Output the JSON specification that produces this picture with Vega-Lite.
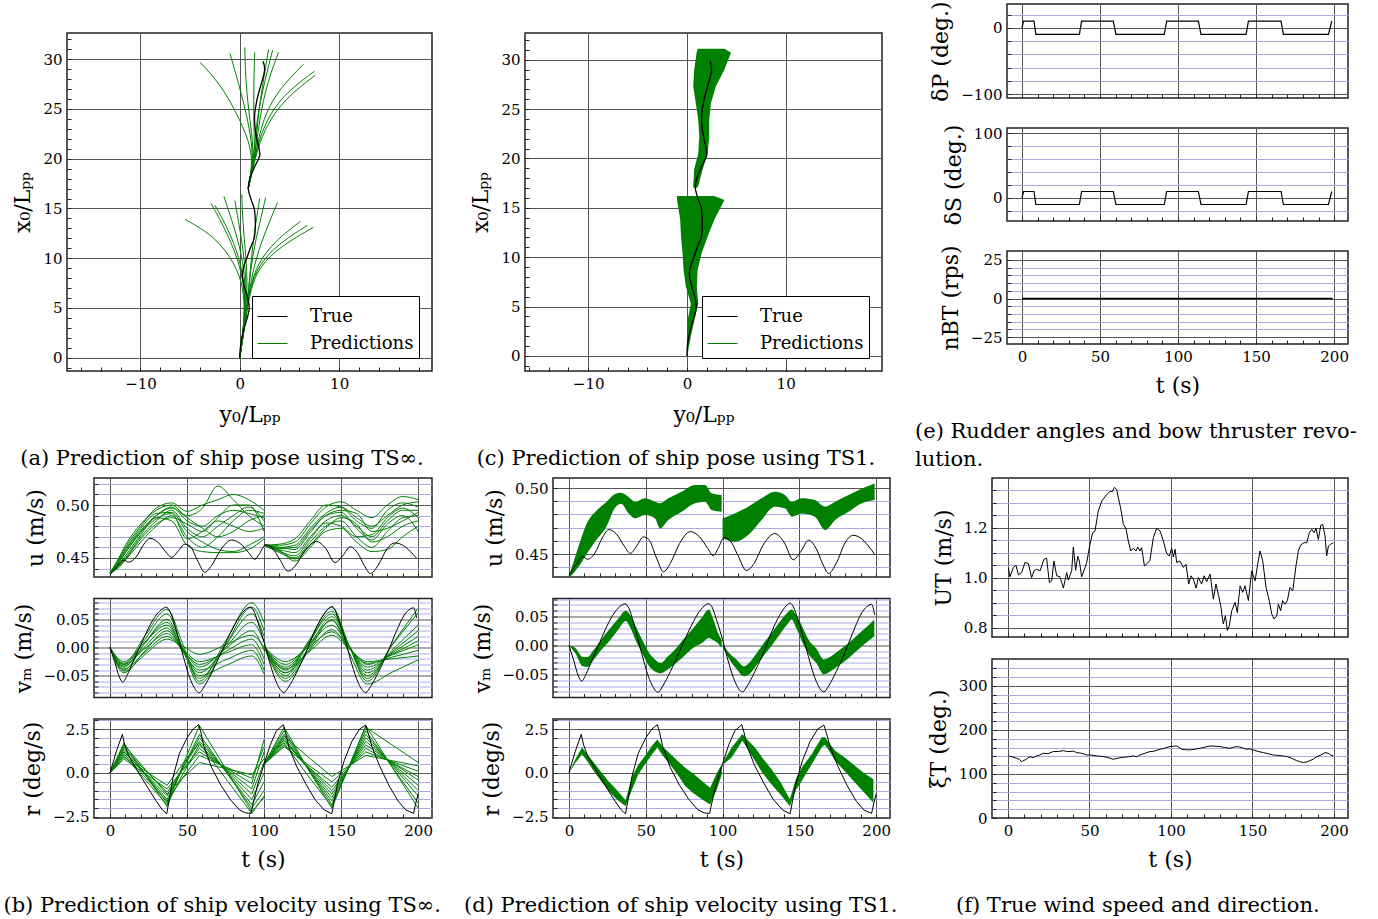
{
"$schema":"https://vega.github.io/schema/vega-lite/v6.json",
"padding":{"left":0,"top":0,"right":5,"bottom":5},
"background":"white",
"config":{
 "font":"DejaVu Serif",
 "view":{"stroke":"#222222","strokeWidth":1.5},
 "axis":{"labelFont":"DejaVu Serif","labelFontSize":15,"labelColor":"#000","titleFont":"DejaVu Serif","titleFontSize":22,"titleFontWeight":"normal","titleColor":"#000","domain":false,"ticks":true,"tickColor":"#222","tickSize":-4,"tickWidth":1,"labelPadding":9,"gridColor":"#555555","gridWidth":1,"labelOverlap":false,"labelFlush":false,"titlePadding":8},
 "title":{"font":"DejaVu Serif","fontSize":21,"fontWeight":"normal","color":"#000"},
 "line":{"strokeWidth":1}
},
"datasets":{
 "traj":[{"e":0,"n":0},{"e":0.05,"n":1},{"e":0.2,"n":2},{"e":0.45,"n":3},{"e":0.75,"n":4},{"e":0.95,"n":5},{"e":0.8,"n":6},{"e":0.5,"n":7},{"e":0.25,"n":8.2},{"e":0.35,"n":9},{"e":0.7,"n":10},{"e":1.05,"n":11},{"e":1.45,"n":12},{"e":1.55,"n":13},{"e":1.55,"n":14},{"e":1.45,"n":15},{"e":1.1,"n":16},{"e":0.85,"n":17},{"e":1.0,"n":18},{"e":1.5,"n":19.2},{"e":2.0,"n":20.3},{"e":1.9,"n":21.2},{"e":1.65,"n":22.3},{"e":1.5,"n":23.5},{"e":1.5,"n":24.5},{"e":1.7,"n":25.8},{"e":2.0,"n":27},{"e":2.3,"n":28},{"e":2.5,"n":29},{"e":2.35,"n":29.8}],
 "pa":[
 {"l":1,"e":0,"n":0},{"l":1,"e":0.5,"n":4},{"l":1,"e":0.4,"n":7},{"l":1,"e":-0.5,"n":9.5},{"l":1,"e":-2.5,"n":12.2},{"l":1,"e":-5.5,"n":13.9},
 {"l":2,"e":0,"n":0},{"l":2,"e":0.5,"n":4},{"l":2,"e":0.5,"n":7},{"l":2,"e":-0.2,"n":10},{"l":2,"e":-1.5,"n":13},{"l":2,"e":-2.9,"n":15.5},
 {"l":3,"e":0,"n":0},{"l":3,"e":0.5,"n":4},{"l":3,"e":0.5,"n":7},{"l":3,"e":0,"n":10},{"l":3,"e":-1.2,"n":13},{"l":3,"e":-2.5,"n":15.3},
 {"l":4,"e":0,"n":0},{"l":4,"e":0.5,"n":4},{"l":4,"e":0.6,"n":7},{"l":4,"e":0.2,"n":10.5},{"l":4,"e":-0.7,"n":13.5},{"l":4,"e":-1.6,"n":16.2},
 {"l":5,"e":0,"n":0},{"l":5,"e":0.5,"n":4},{"l":5,"e":0.7,"n":7},{"l":5,"e":0.4,"n":10.5},{"l":5,"e":-0.1,"n":13.5},{"l":5,"e":-0.5,"n":15.8},
 {"l":6,"e":0,"n":0},{"l":6,"e":0.5,"n":4},{"l":6,"e":0.8,"n":7},{"l":6,"e":0.6,"n":10.5},{"l":6,"e":0.3,"n":13.5},{"l":6,"e":0.2,"n":16.4},
 {"l":7,"e":0,"n":0},{"l":7,"e":0.6,"n":4},{"l":7,"e":0.9,"n":7},{"l":7,"e":1.2,"n":10.5},{"l":7,"e":1.6,"n":13.5},{"l":7,"e":2.0,"n":16.0},
 {"l":8,"e":0,"n":0},{"l":8,"e":0.6,"n":4},{"l":8,"e":0.9,"n":7},{"l":8,"e":1.3,"n":10.5},{"l":8,"e":2.0,"n":13.5},{"l":8,"e":2.6,"n":16.1},
 {"l":9,"e":0,"n":0},{"l":9,"e":0.6,"n":4},{"l":9,"e":1.0,"n":7},{"l":9,"e":1.6,"n":10},{"l":9,"e":2.7,"n":13},{"l":9,"e":3.8,"n":15.6},
 {"l":10,"e":0,"n":0},{"l":10,"e":0.6,"n":4},{"l":10,"e":1.0,"n":7},{"l":10,"e":1.8,"n":9.5},{"l":10,"e":3.5,"n":11.7},{"l":10,"e":6.1,"n":13.7},
 {"l":11,"e":0,"n":0},{"l":11,"e":0.6,"n":4},{"l":11,"e":1.0,"n":7},{"l":11,"e":1.9,"n":9.3},{"l":11,"e":3.8,"n":11.4},{"l":11,"e":6.8,"n":13.3},
 {"l":12,"e":0,"n":0},{"l":12,"e":0.6,"n":4},{"l":12,"e":1.1,"n":7},{"l":12,"e":2.0,"n":9.2},{"l":12,"e":4.1,"n":11.2},{"l":12,"e":7.4,"n":13.1},
 {"l":21,"e":0.85,"n":17},{"l":21,"e":1.2,"n":19},{"l":21,"e":1.2,"n":21},{"l":21,"e":0,"n":24},{"l":21,"e":-1.8,"n":27.3},{"l":21,"e":-4.0,"n":29.7},
 {"l":22,"e":0.85,"n":17},{"l":22,"e":1.2,"n":19},{"l":22,"e":1.3,"n":21},{"l":22,"e":0.8,"n":24},{"l":22,"e":-0.1,"n":27.5},{"l":22,"e":-1.0,"n":30.6},
 {"l":23,"e":0.85,"n":17},{"l":23,"e":1.2,"n":19},{"l":23,"e":1.4,"n":21},{"l":23,"e":1.0,"n":24},{"l":23,"e":0.6,"n":27.5},{"l":23,"e":0.5,"n":31.2},
 {"l":24,"e":0.85,"n":17},{"l":24,"e":1.3,"n":19},{"l":24,"e":1.5,"n":21},{"l":24,"e":1.4,"n":24},{"l":24,"e":1.4,"n":27.5},{"l":24,"e":1.5,"n":30.7},
 {"l":25,"e":0.85,"n":17},{"l":25,"e":1.3,"n":19},{"l":25,"e":1.6,"n":21},{"l":25,"e":1.8,"n":24},{"l":25,"e":2.3,"n":27.5},{"l":25,"e":2.9,"n":31.0},
 {"l":26,"e":0.85,"n":17},{"l":26,"e":1.3,"n":19},{"l":26,"e":1.6,"n":21},{"l":26,"e":2.0,"n":24},{"l":26,"e":2.7,"n":27.5},{"l":26,"e":3.9,"n":30.7},
 {"l":27,"e":0.85,"n":17},{"l":27,"e":1.3,"n":19},{"l":27,"e":1.7,"n":21},{"l":27,"e":2.2,"n":23.5},{"l":27,"e":3.5,"n":26.5},{"l":27,"e":6.4,"n":29.5},
 {"l":28,"e":0.85,"n":17},{"l":28,"e":1.3,"n":19},{"l":28,"e":1.7,"n":21},{"l":28,"e":2.5,"n":23.5},{"l":28,"e":4.2,"n":26.3},{"l":28,"e":7.5,"n":28.8},
 {"l":29,"e":0.85,"n":17},{"l":29,"e":1.3,"n":19},{"l":29,"e":1.8,"n":21},{"l":29,"e":2.7,"n":23.4},{"l":29,"e":4.5,"n":26},{"l":29,"e":7.6,"n":28.4},
 {"l":30,"e":0.85,"n":17},{"l":30,"e":1.2,"n":19},{"l":30,"e":1.5,"n":21},{"l":30,"e":1.7,"n":24},{"l":30,"e":2.5,"n":27.8},{"l":30,"e":3.3,"n":30.9}],
 "bc":[
 {"f":1,"n":0,"e":0,"e2":0.03},{"f":1,"n":2,"e":0,"e2":0.4},{"f":1,"n":3.6,"e":0.07,"e2":0.74},{"f":1,"n":5.3,"e":0.4,"e2":1.15},{"f":1,"n":7,"e":-0.1,"e2":1.0},{"f":1,"n":8.7,"e":-0.34,"e2":1.08},{"f":1,"n":10.4,"e":-0.44,"e2":1.49},{"f":1,"n":12.1,"e":-0.6,"e2":2.1},{"f":1,"n":13.8,"e":-0.68,"e2":2.77},{"f":1,"n":15.1,"e":-0.88,"e2":3.45},{"f":1,"n":15.8,"e":-1.0,"e2":3.8},{"f":1,"n":16.2,"e":-1.0,"e2":2.77},
 {"f":2,"n":17.0,"e":0.7,"e2":1.0},{"f":2,"n":17.2,"e":0.64,"e2":1.15},{"f":2,"n":18.9,"e":0.74,"e2":1.6},{"f":2,"n":20.5,"e":1.15,"e2":2.1},{"f":2,"n":22.2,"e":1.25,"e2":2.26},{"f":2,"n":23.9,"e":1.15,"e2":2.26},{"f":2,"n":25.6,"e":0.9,"e2":2.43},{"f":2,"n":27.3,"e":0.64,"e2":2.94},{"f":2,"n":29.0,"e":0.74,"e2":3.8},{"f":2,"n":30.7,"e":0.98,"e2":4.46},{"f":2,"n":31.1,"e":1.08,"e2":3.8}],
 "tu":[{"t":0,"v":0.434},{"t":4,"v":0.441},{"t":9,"v":0.448},{"t":12,"v":0.446},{"t":17,"v":0.451},{"t":22,"v":0.463},{"t":26,"v":0.4685},{"t":31,"v":0.465},{"t":36,"v":0.456},{"t":40,"v":0.4505},{"t":44,"v":0.456},{"t":48.5,"v":0.463},{"t":52,"v":0.461},{"t":57,"v":0.447},{"t":61.5,"v":0.4365},{"t":66,"v":0.443},{"t":72,"v":0.458},{"t":79,"v":0.467},{"t":85,"v":0.463},{"t":90,"v":0.455},{"t":94,"v":0.4487},{"t":97,"v":0.454},{"t":101,"v":0.4625},{"t":105,"v":0.46},{"t":110,"v":0.449},{"t":115.5,"v":0.4375},{"t":120,"v":0.442},{"t":127,"v":0.458},{"t":134,"v":0.4655},{"t":140,"v":0.459},{"t":146,"v":0.4457},{"t":151,"v":0.452},{"t":156,"v":0.4605},{"t":161,"v":0.454},{"t":165,"v":0.443},{"t":169,"v":0.4353},{"t":174,"v":0.443},{"t":180,"v":0.459},{"t":185,"v":0.4642},{"t":190,"v":0.462},{"t":195,"v":0.456},{"t":199,"v":0.4497}],
 "tv":[{"t":0,"v":0},{"t":3,"v":-0.025},{"t":6,"v":-0.052},{"t":8.3,"v":-0.0615},{"t":11,"v":-0.05},{"t":15,"v":-0.025},{"t":20,"v":0.005},{"t":25,"v":0.035},{"t":30,"v":0.058},{"t":34,"v":0.069},{"t":36.5,"v":0.072},{"t":39,"v":0.064},{"t":42,"v":0.04},{"t":45,"v":0.01},{"t":48,"v":-0.02},{"t":51,"v":-0.048},{"t":54,"v":-0.068},{"t":58,"v":-0.0805},{"t":61,"v":-0.07},{"t":66,"v":-0.045},{"t":72,"v":-0.01},{"t":78,"v":0.025},{"t":84,"v":0.055},{"t":88,"v":0.068},{"t":91,"v":0.072},{"t":93,"v":0.067},{"t":96,"v":0.045},{"t":100,"v":0.01},{"t":104,"v":-0.03},{"t":108,"v":-0.062},{"t":113,"v":-0.08},{"t":116,"v":-0.07},{"t":121,"v":-0.045},{"t":127,"v":-0.01},{"t":133,"v":0.03},{"t":139,"v":0.06},{"t":142,"v":0.07},{"t":144,"v":0.073},{"t":146,"v":0.067},{"t":149,"v":0.045},{"t":153,"v":0.01},{"t":157,"v":-0.03},{"t":161,"v":-0.062},{"t":166,"v":-0.08},{"t":169,"v":-0.07},{"t":174,"v":-0.045},{"t":180,"v":-0.01},{"t":186,"v":0.03},{"t":191,"v":0.058},{"t":195,"v":0.069},{"t":197,"v":0.071},{"t":199,"v":0.053}],
 "tr":[{"t":0,"v":0},{"t":4,"v":1.2},{"t":8,"v":2.2},{"t":9.5,"v":1.6},{"t":12,"v":1.0},{"t":16,"v":0.4},{"t":20,"v":-0.2},{"t":25,"v":-0.9},{"t":30,"v":-1.6},{"t":34,"v":-2.1},{"t":36.8,"v":-2.32},{"t":38.5,"v":-1.5},{"t":41,"v":-0.2},{"t":45,"v":1.1},{"t":50,"v":2.0},{"t":54,"v":2.5},{"t":57.5,"v":2.75},{"t":59,"v":2.3},{"t":61,"v":1.5},{"t":66,"v":0.3},{"t":72,"v":-0.7},{"t":78,"v":-1.5},{"t":84,"v":-2.1},{"t":88,"v":-2.27},{"t":91.5,"v":-2.3},{"t":93,"v":-1.7},{"t":96,"v":-0.6},{"t":100,"v":0.5},{"t":104,"v":1.6},{"t":108,"v":2.4},{"t":112.5,"v":2.75},{"t":114,"v":2.3},{"t":116,"v":1.5},{"t":121,"v":0.4},{"t":127,"v":-0.6},{"t":133,"v":-1.5},{"t":139,"v":-2.1},{"t":144,"v":-2.32},{"t":145.5,"v":-1.6},{"t":148,"v":-0.5},{"t":152,"v":0.7},{"t":157,"v":1.8},{"t":162,"v":2.5},{"t":166,"v":2.72},{"t":167.5,"v":2.3},{"t":170,"v":1.5},{"t":175,"v":0.4},{"t":181,"v":-0.7},{"t":187,"v":-1.6},{"t":192,"v":-2.1},{"t":197,"v":-2.3},{"t":198.5,"v":-1.7},{"t":200,"v":-1.2}],
 "bu":[
 {"s":1,"t":0,"a":0.436,"b":0.436,"c":0.436,"d":0.436,"e":0.436,"f":0.436,"g":0.436,"h":0.436,"i":0.436,"j":0.436},
 {"s":1,"t":5,"a":0.445,"b":0.442,"c":0.448,"d":0.440,"e":0.446,"f":0.443,"g":0.447,"h":0.441,"i":0.444,"j":0.446},
 {"s":1,"t":10,"a":0.455,"b":0.450,"c":0.462,"d":0.448,"e":0.458,"f":0.452,"g":0.460,"h":0.449,"i":0.455,"j":0.457},
 {"s":1,"t":20,"a":0.475,"b":0.470,"c":0.482,"d":0.465,"e":0.478,"f":0.472,"g":0.480,"h":0.468,"i":0.474,"j":0.476},
 {"s":1,"t":30,"a":0.490,"b":0.485,"c":0.495,"d":0.480,"e":0.492,"f":0.488,"g":0.497,"h":0.482,"i":0.487,"j":0.490},
 {"s":1,"t":40,"a":0.498,"b":0.495,"c":0.500,"d":0.490,"e":0.493,"f":0.485,"g":0.502,"h":0.488,"i":0.492,"j":0.497},
 {"s":1,"t":50,"a":0.485,"b":0.478,"c":0.490,"d":0.470,"e":0.475,"f":0.462,"g":0.494,"h":0.482,"i":0.468,"j":0.488},
 {"s":1,"t":60,"a":0.480,"b":0.470,"c":0.497,"d":0.460,"e":0.465,"f":0.456,"g":0.500,"h":0.475,"i":0.475,"j":0.478},
 {"s":1,"t":70,"a":0.490,"b":0.480,"c":0.518,"d":0.470,"e":0.458,"f":0.455,"g":0.505,"h":0.488,"i":0.485,"j":0.470},
 {"s":1,"t":80,"a":0.495,"b":0.490,"c":0.505,"d":0.485,"e":0.456,"f":0.455,"g":0.510,"h":0.500,"i":0.480,"j":0.475},
 {"s":1,"t":90,"a":0.492,"b":0.498,"c":0.490,"d":0.495,"e":0.462,"f":0.458,"g":0.505,"h":0.500,"i":0.475,"j":0.485},
 {"s":1,"t":100,"a":0.488,"b":0.485,"c":0.480,"d":0.492,"e":0.470,"f":0.468,"g":0.495,"h":0.475,"i":0.478,"j":0.490},
 {"s":2,"t":100,"a":0.462,"b":0.462,"c":0.462,"d":0.462,"e":0.462,"f":0.462,"g":0.462,"h":0.462,"i":0.462,"j":0.462},
 {"s":2,"t":110,"a":0.460,"b":0.458,"c":0.462,"d":0.455,"e":0.457,"f":0.460,"g":0.463,"h":0.456,"i":0.459,"j":0.457},
 {"s":2,"t":120,"a":0.462,"b":0.455,"c":0.465,"d":0.450,"e":0.447,"f":0.458,"g":0.468,"h":0.452,"i":0.460,"j":0.449},
 {"s":2,"t":130,"a":0.478,"b":0.470,"c":0.482,"d":0.465,"e":0.460,"f":0.474,"g":0.485,"h":0.468,"i":0.476,"j":0.462},
 {"s":2,"t":140,"a":0.492,"b":0.485,"c":0.498,"d":0.480,"e":0.475,"f":0.490,"g":0.500,"h":0.483,"i":0.490,"j":0.478},
 {"s":2,"t":150,"a":0.498,"b":0.490,"c":0.503,"d":0.485,"e":0.478,"f":0.493,"g":0.498,"h":0.480,"i":0.495,"j":0.488},
 {"s":2,"t":160,"a":0.488,"b":0.480,"c":0.495,"d":0.470,"e":0.465,"f":0.478,"g":0.485,"h":0.470,"i":0.492,"j":0.482},
 {"s":2,"t":170,"a":0.480,"b":0.470,"c":0.488,"d":0.460,"e":0.456,"f":0.467,"g":0.478,"h":0.472,"i":0.475,"j":0.465},
 {"s":2,"t":180,"a":0.490,"b":0.485,"c":0.500,"d":0.475,"e":0.458,"f":0.482,"g":0.495,"h":0.488,"i":0.478,"j":0.470},
 {"s":2,"t":190,"a":0.500,"b":0.495,"c":0.508,"d":0.488,"e":0.470,"f":0.490,"g":0.502,"h":0.497,"i":0.485,"j":0.480},
 {"s":2,"t":200,"a":0.503,"b":0.495,"c":0.505,"d":0.490,"e":0.480,"f":0.475,"g":0.498,"h":0.488,"i":0.493,"j":0.485}],
 "bv":[
 {"s":1,"t":0,"a":0,"b":0,"c":0,"d":0,"e":0,"f":0,"g":0,"h":0,"i":0,"j":0},
 {"s":1,"t":9,"a":-0.030,"b":-0.035,"c":-0.040,"d":-0.025,"e":-0.045,"f":-0.030,"g":-0.038,"h":-0.033,"i":-0.028,"j":-0.042},
 {"s":1,"t":22,"a":0.018,"b":0.012,"c":0.005,"d":0.008,"e":-0.008,"f":-0.003,"g":-0.010,"h":0.000,"i":0.008,"j":-0.014},
 {"s":1,"t":37,"a":0.068,"b":0.060,"c":0.050,"d":0.040,"e":0.030,"f":0.025,"g":0.020,"h":0.035,"i":0.045,"j":0.015},
 {"s":1,"t":47,"a":0.008,"b":0.000,"c":0.000,"d":-0.004,"e":-0.002,"f":-0.004,"g":-0.002,"h":-0.006,"i":-0.005,"j":0.003},
 {"s":1,"t":58,"a":-0.060,"b":-0.065,"c":-0.055,"d":-0.045,"e":-0.035,"f":-0.030,"g":-0.025,"h":-0.040,"i":-0.050,"j":-0.012},
 {"s":1,"t":75,"a":0.012,"b":0.004,"c":0.004,"d":0.000,"e":-0.002,"f":-0.007,"g":-0.010,"h":-0.022,"i":-0.032,"j":0.005},
 {"s":1,"t":92,"a":0.080,"b":0.072,"c":0.060,"d":0.045,"e":0.030,"f":0.015,"g":0.005,"h":-0.005,"i":-0.015,"j":0.022},
 {"s":1,"t":100,"a":0.045,"b":0.030,"c":0.020,"d":0.010,"e":-0.005,"f":-0.020,"g":-0.030,"h":-0.040,"i":-0.047,"j":0.000},
 {"s":2,"t":100,"a":0.002,"b":0.002,"c":0.002,"d":0.002,"e":0.002,"f":0.002,"g":0.002,"h":0.002,"i":0.002,"j":0.002},
 {"s":2,"t":114,"a":-0.045,"b":-0.050,"c":-0.040,"d":-0.055,"e":-0.035,"f":-0.030,"g":-0.045,"h":-0.025,"i":-0.038,"j":-0.060},
 {"s":2,"t":129,"a":0.012,"b":0.008,"c":0.010,"d":0.000,"e":0.006,"f":0.005,"g":-0.006,"h":0.001,"i":-0.008,"j":-0.005},
 {"s":2,"t":144,"a":0.072,"b":0.065,"c":0.060,"d":0.055,"e":0.048,"f":0.040,"g":0.032,"h":0.028,"i":0.022,"j":0.050},
 {"s":2,"t":155,"a":0.005,"b":0.004,"c":0.004,"d":0.004,"e":0.004,"f":0.002,"g":0.000,"h":0.000,"i":-0.002,"j":-0.008},
 {"s":2,"t":167,"a":-0.060,"b":-0.055,"c":-0.050,"d":-0.045,"e":-0.040,"f":-0.035,"g":-0.030,"h":-0.028,"i":-0.025,"j":-0.065},
 {"s":2,"t":183,"a":0.005,"b":0.004,"c":-0.005,"d":-0.008,"e":-0.010,"f":-0.012,"g":-0.013,"h":-0.017,"i":-0.020,"j":-0.044},
 {"s":2,"t":200,"a":0.070,"b":0.062,"c":0.040,"d":0.030,"e":0.020,"f":0.012,"g":0.005,"h":-0.005,"i":-0.015,"j":-0.022}],
 "br":[
 {"s":1,"t":0,"a":0,"b":0,"c":0,"d":0,"e":0,"f":0,"g":0,"h":0,"i":0,"j":0},
 {"s":1,"t":9,"a":1.7,"b":1.5,"c":1.3,"d":1.2,"e":1.0,"f":1.4,"g":0.8,"h":1.1,"i":1.6,"j":0.9},
 {"s":1,"t":23,"a":-0.1,"b":-0.1,"c":-0.1,"d":-0.05,"e":-0.4,"f":0.15,"g":-0.05,"h":-0.25,"i":0.2,"j":0.1},
 {"s":1,"t":37,"a":-1.9,"b":-1.7,"c":-1.5,"d":-1.3,"e":-1.8,"f":-1.1,"g":-0.9,"h":-1.6,"i":-1.2,"j":-0.7},
 {"s":1,"t":47,"a":0.4,"b":0.25,"c":0.25,"d":0.25,"e":-0.1,"f":0.15,"g":0.15,"h":-0.3,"i":-0.3,"j":0.5},
 {"s":1,"t":58,"a":2.7,"b":2.2,"c":2.0,"d":1.8,"e":1.6,"f":1.4,"g":1.2,"h":1.0,"i":0.6,"j":1.7},
 {"s":1,"t":75,"a":0.25,"b":0.1,"c":0.1,"d":0.15,"e":0.2,"f":0.25,"g":0.3,"h":0.35,"i":0.25,"j":-0.3},
 {"s":1,"t":92,"a":-2.2,"b":-2.0,"c":-1.8,"d":-1.5,"e":-1.2,"f":-0.9,"g":-0.6,"h":-0.3,"i":-0.1,"j":-2.3},
 {"s":1,"t":100,"a":-1.4,"b":-1.0,"c":-0.5,"d":0.0,"e":0.6,"f":1.2,"g":1.9,"h":1.5,"i":0.8,"j":-1.3},
 {"s":2,"t":100,"a":0.5,"b":0.5,"c":0.5,"d":0.5,"e":0.5,"f":0.5,"g":0.5,"h":0.5,"i":0.5,"j":0.5},
 {"s":2,"t":113,"a":2.6,"b":2.4,"c":2.2,"d":2.0,"e":1.9,"f":1.8,"g":1.6,"h":1.5,"i":2.1,"j":1.7},
 {"s":2,"t":128,"a":0.3,"b":0.3,"c":0.3,"d":0.3,"e":0.35,"f":0.4,"g":0.4,"h":0.5,"i":0.95,"j":-0.1},
 {"s":2,"t":144,"a":-2.0,"b":-1.8,"c":-1.6,"d":-1.4,"e":-1.2,"f":-1.0,"g":-0.8,"h":-0.5,"i":-0.2,"j":-1.9},
 {"s":2,"t":155,"a":0.35,"b":0.3,"c":0.3,"d":0.3,"e":0.3,"f":0.3,"g":0.3,"h":0.35,"i":0.4,"j":0.35},
 {"s":2,"t":166,"a":2.7,"b":2.4,"c":2.2,"d":2.0,"e":1.8,"f":1.6,"g":1.4,"h":1.2,"i":1.0,"j":2.6},
 {"s":2,"t":183,"a":0.35,"b":0.35,"c":0.45,"d":0.5,"e":0.55,"f":0.6,"g":0.6,"h":0.65,"i":0.7,"j":1.6},
 {"s":2,"t":200,"a":-2.0,"b":-1.7,"c":-1.3,"d":-1.0,"e":-0.7,"f":-0.4,"g":-0.2,"h":0.1,"i":0.4,"j":0.6}],
 "du":[
 {"s":1,"t":0,"v":0.432,"v2":0.433},{"s":1,"t":6,"v":0.44,"v2":0.455},{"s":1,"t":12,"v":0.451,"v2":0.474},{"s":1,"t":18,"v":0.461,"v2":0.483},{"s":1,"t":24,"v":0.47,"v2":0.489},{"s":1,"t":30,"v":0.485,"v2":0.4955},{"s":1,"t":34,"v":0.488,"v2":0.4965},{"s":1,"t":38.6,"v":0.481,"v2":0.4934},{"s":1,"t":43,"v":0.477,"v2":0.4896},{"s":1,"t":49.5,"v":0.4795,"v2":0.4922},{"s":1,"t":56,"v":0.477,"v2":0.4896},{"s":1,"t":59.3,"v":0.4694,"v2":0.4884},{"s":1,"t":64.7,"v":0.4758,"v2":0.4922},{"s":1,"t":73.4,"v":0.482,"v2":0.4972},{"s":1,"t":82,"v":0.4884,"v2":0.5023},{"s":1,"t":88.6,"v":0.4896,"v2":0.5023},{"s":1,"t":92.9,"v":0.4833,"v2":0.496},{"s":1,"t":99.4,"v":0.482,"v2":0.4947},
 {"s":2,"t":100,"v":0.462,"v2":0.477},{"s":2,"t":108,"v":0.4593,"v2":0.4808},{"s":2,"t":116.7,"v":0.4644,"v2":0.4859},{"s":2,"t":125.4,"v":0.4758,"v2":0.4922},{"s":2,"t":134,"v":0.4859,"v2":0.4972},{"s":2,"t":140.6,"v":0.4846,"v2":0.4947},{"s":2,"t":145,"v":0.4783,"v2":0.4896},{"s":2,"t":151.5,"v":0.4808,"v2":0.4922},{"s":2,"t":160,"v":0.4783,"v2":0.4909},{"s":2,"t":166.8,"v":0.4682,"v2":0.4859},{"s":2,"t":173.3,"v":0.4758,"v2":0.4896},{"s":2,"t":182,"v":0.482,"v2":0.4947},{"s":2,"t":190.7,"v":0.4884,"v2":0.4997},{"s":2,"t":199,"v":0.4909,"v2":0.5035}],
 "dv":[
 {"s":1,"t":0,"v":0,"v2":0},{"s":1,"t":4,"v":-0.013,"v2":-0.004},{"s":1,"t":9,"v":-0.036,"v2":-0.02},{"s":1,"t":12,"v":-0.037,"v2":-0.02},{"s":1,"t":16,"v":-0.025,"v2":-0.008},{"s":1,"t":21,"v":-0.008,"v2":0.01},{"s":1,"t":27,"v":0.01,"v2":0.03},{"s":1,"t":32,"v":0.027,"v2":0.046},{"s":1,"t":37,"v":0.042,"v2":0.06},{"s":1,"t":40,"v":0.03,"v2":0.052},{"s":1,"t":44,"v":0.005,"v2":0.03},{"s":1,"t":48,"v":-0.015,"v2":0.008},{"s":1,"t":52,"v":-0.035,"v2":-0.012},{"s":1,"t":56,"v":-0.045,"v2":-0.024},{"s":1,"t":60,"v":-0.048,"v2":-0.03},{"s":1,"t":64,"v":-0.042,"v2":-0.02},{"s":1,"t":69,"v":-0.032,"v2":-0.007},{"s":1,"t":75,"v":-0.018,"v2":0.012},{"s":1,"t":81,"v":-0.004,"v2":0.03},{"s":1,"t":87,"v":0.005,"v2":0.05},{"s":1,"t":91,"v":0.013,"v2":0.062},{"s":1,"t":94,"v":0.009,"v2":0.045},{"s":1,"t":97,"v":0.004,"v2":0.022},{"s":1,"t":99.4,"v":-0.004,"v2":0.01},
 {"s":2,"t":100,"v":-0.002,"v2":0.002},{"s":2,"t":104,"v":-0.022,"v2":-0.012},{"s":2,"t":109,"v":-0.04,"v2":-0.024},{"s":2,"t":114,"v":-0.053,"v2":-0.036},{"s":2,"t":118,"v":-0.048,"v2":-0.028},{"s":2,"t":122,"v":-0.034,"v2":-0.014},{"s":2,"t":127,"v":-0.017,"v2":0.005},{"s":2,"t":132,"v":0,"v2":0.022},{"s":2,"t":137,"v":0.018,"v2":0.04},{"s":2,"t":142,"v":0.036,"v2":0.056},{"s":2,"t":145,"v":0.045,"v2":0.062},{"s":2,"t":148,"v":0.03,"v2":0.052},{"s":2,"t":152,"v":0.005,"v2":0.032},{"s":2,"t":156,"v":-0.015,"v2":0.01},{"s":2,"t":161,"v":-0.03,"v2":-0.005},{"s":2,"t":166,"v":-0.05,"v2":-0.024},{"s":2,"t":170,"v":-0.045,"v2":-0.02},{"s":2,"t":175,"v":-0.036,"v2":-0.01},{"s":2,"t":181,"v":-0.024,"v2":0.002},{"s":2,"t":187,"v":-0.01,"v2":0.016},{"s":2,"t":193,"v":0.004,"v2":0.03},{"s":2,"t":198.8,"v":0.016,"v2":0.045}],
 "dr":[
 {"s":1,"t":0,"v":0,"v2":0},{"s":1,"t":4,"v":0.55,"v2":0.75},{"s":1,"t":8.5,"v":1.07,"v2":1.45},{"s":1,"t":12,"v":0.65,"v2":1.05},{"s":1,"t":17,"v":0.0,"v2":0.5},{"s":1,"t":25.6,"v":-1.0,"v2":-0.45},{"s":1,"t":31,"v":-1.5,"v2":-0.95},{"s":1,"t":36.9,"v":-1.89,"v2":-1.55},{"s":1,"t":40.8,"v":-1.0,"v2":-0.27},{"s":1,"t":45,"v":-0.1,"v2":0.45},{"s":1,"t":49.5,"v":0.49,"v2":0.97},{"s":1,"t":54,"v":1.05,"v2":1.55},{"s":1,"t":57.5,"v":1.45,"v2":1.9},{"s":1,"t":61,"v":1.0,"v2":1.5},{"s":1,"t":64.7,"v":0.6,"v2":1.2},{"s":1,"t":70,"v":0.0,"v2":0.75},{"s":1,"t":75.6,"v":-0.74,"v2":0.3},{"s":1,"t":81,"v":-1.15,"v2":-0.05},{"s":1,"t":86.5,"v":-1.5,"v2":-0.46},{"s":1,"t":91.9,"v":-1.79,"v2":-0.84},{"s":1,"t":96.3,"v":-0.93,"v2":0.02},{"s":1,"t":99.5,"v":-0.08,"v2":0.49},
 {"s":2,"t":100,"v":0.45,"v2":0.55},{"s":2,"t":105.9,"v":0.88,"v2":1.45},{"s":2,"t":112.9,"v":1.83,"v2":2.21},{"s":2,"t":116,"v":1.4,"v2":1.9},{"s":2,"t":121.1,"v":0.69,"v2":1.45},{"s":2,"t":126,"v":0.0,"v2":0.85},{"s":2,"t":131.9,"v":-0.65,"v2":0.21},{"s":2,"t":138,"v":-1.25,"v2":-0.55},{"s":2,"t":143.8,"v":-1.89,"v2":-1.5},{"s":2,"t":147.5,"v":-1.0,"v2":-0.4},{"s":2,"t":151.5,"v":-0.46,"v2":0.3},{"s":2,"t":158,"v":0.49,"v2":1.07},{"s":2,"t":164.5,"v":1.45,"v2":2.02},{"s":2,"t":166.5,"v":1.6,"v2":2.05},{"s":2,"t":169,"v":1.3,"v2":1.75},{"s":2,"t":173.3,"v":0.69,"v2":1.26},{"s":2,"t":180,"v":0.05,"v2":0.85},{"s":2,"t":186.3,"v":-0.55,"v2":0.4},{"s":2,"t":192,"v":-1.1,"v2":0.0},{"s":2,"t":198.2,"v":-1.69,"v2":-0.36}],
 "ctl":[{"t":0,"d":0},{"t":1,"d":10},{"t":7.7,"d":10},{"t":8.9,"d":-10},{"t":36.8,"d":-10},{"t":38.2,"d":10},{"t":58.5,"d":10},{"t":60.2,"d":-10},{"t":91.2,"d":-10},{"t":92.7,"d":10},{"t":113,"d":10},{"t":114.7,"d":-10},{"t":143.6,"d":-10},{"t":145.1,"d":10},{"t":166,"d":10},{"t":167.5,"d":-10},{"t":196.4,"d":-10},{"t":198.5,"d":10}],
 "nbt":[{"t":0,"d":0},{"t":199,"d":0}],
 "wu":[{"t":0.2,"v":1.041},{"t":1.2,"v":1.004},{"t":3.3,"v":1.041},{"t":4.9,"v":1.05},{"t":6.4,"v":1.012},{"t":8.4,"v":1.021},{"t":10.4,"v":1.061},{"t":12.5,"v":1.057},{"t":14.5,"v":1.001},{"t":16,"v":1.028},{"t":17.6,"v":1.034},{"t":19.7,"v":1.028},{"t":22.1,"v":1.074},{"t":23.7,"v":1.078},{"t":25.4,"v":0.981},{"t":26.8,"v":0.988},{"t":28.2,"v":1.067},{"t":29.9,"v":1.008},{"t":31.9,"v":1.004},{"t":34,"v":0.959},{"t":36,"v":1.021},{"t":37,"v":0.991},{"t":39.1,"v":1.028},{"t":40.1,"v":1.123},{"t":41.5,"v":1.03},{"t":42.8,"v":1.086},{"t":43.8,"v":1.067},{"t":45.2,"v":1.004},{"t":47.3,"v":1.041},{"t":48.3,"v":1.061},{"t":50.3,"v":1.134},{"t":52,"v":1.18},{"t":53.4,"v":1.187},{"t":55.4,"v":1.266},{"t":57.5,"v":1.306},{"t":60.6,"v":1.332},{"t":62.6,"v":1.345},{"t":64,"v":1.343},{"t":65.3,"v":1.361},{"t":66.7,"v":1.352},{"t":67.7,"v":1.319},{"t":69.1,"v":1.279},{"t":70.8,"v":1.213},{"t":72.4,"v":1.197},{"t":73.8,"v":1.147},{"t":75.3,"v":1.107},{"t":76.9,"v":1.118},{"t":78.5,"v":1.107},{"t":79.6,"v":1.123},{"t":81,"v":1.107},{"t":82,"v":1.12},{"t":83.7,"v":1.048},{"t":85.5,"v":1.057},{"t":87.1,"v":1.07},{"t":89.2,"v":1.16},{"t":91.2,"v":1.197},{"t":93.3,"v":1.187},{"t":95.3,"v":1.147},{"t":97.4,"v":1.096},{"t":99,"v":1.087},{"t":100.4,"v":1.118},{"t":101.5,"v":1.083},{"t":102.5,"v":1.114},{"t":103.5,"v":1.061},{"t":105.5,"v":1.067},{"t":107.6,"v":1.041},{"t":109.2,"v":1.054},{"t":110.9,"v":0.975},{"t":112.3,"v":1.008},{"t":113.7,"v":0.995},{"t":115.4,"v":0.959},{"t":116.8,"v":1.001},{"t":118.8,"v":0.975},{"t":120.3,"v":1.008},{"t":121.9,"v":0.985},{"t":124,"v":1.015},{"t":126,"v":0.915},{"t":127.6,"v":0.975},{"t":129.1,"v":0.933},{"t":130.5,"v":0.889},{"t":132.1,"v":0.816},{"t":133.4,"v":0.849},{"t":134.6,"v":0.79},{"t":135.8,"v":0.809},{"t":137.3,"v":0.869},{"t":139.3,"v":0.902},{"t":140.7,"v":0.862},{"t":142.4,"v":0.968},{"t":144,"v":0.942},{"t":145.4,"v":0.968},{"t":147.5,"v":0.909},{"t":149.5,"v":1.028},{"t":151.6,"v":0.988},{"t":153.2,"v":1.054},{"t":154.6,"v":1.107},{"t":156.3,"v":1.067},{"t":158.3,"v":0.962},{"t":160.3,"v":0.909},{"t":161.8,"v":0.856},{"t":163.2,"v":0.836},{"t":164.9,"v":0.849},{"t":165.9,"v":0.895},{"t":167.3,"v":0.869},{"t":168.5,"v":0.909},{"t":169.9,"v":0.895},{"t":171.4,"v":0.909},{"t":173,"v":0.962},{"t":174.7,"v":0.948},{"t":176.7,"v":1.048},{"t":178.1,"v":1.107},{"t":179.6,"v":1.131},{"t":181.6,"v":1.14},{"t":183.3,"v":1.14},{"t":184.9,"v":1.18},{"t":186.3,"v":1.193},{"t":187.8,"v":1.18},{"t":189,"v":1.197},{"t":190.4,"v":1.153},{"t":191.9,"v":1.21},{"t":193.1,"v":1.213},{"t":194.5,"v":1.167},{"t":195.5,"v":1.087},{"t":196.6,"v":1.127},{"t":198,"v":1.134},{"t":199.6,"v":1.14}],
 "wx":[{"t":0.2,"v":140.9},{"t":2.5,"v":139},{"t":5.3,"v":135.6},{"t":7,"v":133},{"t":8.4,"v":128},{"t":10.5,"v":132},{"t":13.5,"v":139.4},{"t":15.5,"v":137},{"t":17.6,"v":141},{"t":19.5,"v":143},{"t":21.7,"v":147},{"t":24.5,"v":146},{"t":27.8,"v":150.8},{"t":31,"v":151},{"t":34,"v":153},{"t":36,"v":151},{"t":38,"v":150.8},{"t":40,"v":152},{"t":42.1,"v":148.5},{"t":45,"v":147},{"t":48.3,"v":143.2},{"t":51,"v":143},{"t":54.4,"v":141},{"t":57.5,"v":140},{"t":60.6,"v":137.9},{"t":62.5,"v":136},{"t":64.6,"v":133.3},{"t":67.5,"v":136},{"t":70.8,"v":137.9},{"t":74,"v":139},{"t":76.9,"v":141},{"t":79,"v":139},{"t":81,"v":143.2},{"t":84,"v":147},{"t":87.1,"v":150.8},{"t":90,"v":152},{"t":93.3,"v":156.1},{"t":96.5,"v":159},{"t":99.4,"v":162.1},{"t":101.5,"v":163},{"t":103.5,"v":163.6},{"t":105,"v":160},{"t":106.6,"v":156.1},{"t":109,"v":155},{"t":111.7,"v":154.5},{"t":114.5,"v":156},{"t":117.8,"v":158.3},{"t":121,"v":161},{"t":124,"v":163.6},{"t":127,"v":163},{"t":130.1,"v":162.1},{"t":133,"v":160},{"t":136.2,"v":158.3},{"t":138.5,"v":161},{"t":141.3,"v":162.1},{"t":144,"v":159},{"t":146.4,"v":156.1},{"t":148.5,"v":157},{"t":150.5,"v":154.5},{"t":153.5,"v":151},{"t":156.7,"v":148.5},{"t":159.5,"v":146},{"t":162.8,"v":143.2},{"t":165.5,"v":142},{"t":168.9,"v":141},{"t":171.5,"v":139},{"t":174,"v":135.6},{"t":177.1,"v":130.3},{"t":179,"v":128},{"t":181.2,"v":125.8},{"t":183,"v":127},{"t":185.3,"v":130.3},{"t":187.5,"v":134},{"t":189.4,"v":139.4},{"t":192,"v":143},{"t":194.5,"v":148.5},{"t":196.5,"v":147},{"t":198,"v":143},{"t":199.6,"v":140.9}]
},
"vconcat":[
 {"hconcat":[
  {"width":11,"height":1,"view":{"stroke":null},"data":{"values":[{"a":1}]},"mark":{"type":"point","opacity":0,"size":0},"encoding":{}},
  {"hconcat":[
   {"vconcat":[
    {"width":1,"height":26.8,"view":{"stroke":null},"data":{"values":[{"a":1}]},"mark":{"type":"point","opacity":0,"size":0},"encoding":{}},
    {"hconcat":[
     {"width":365,"height":338,
      "title":{"text":"(a) Prediction of ship pose using TS∞.","orient":"bottom","anchor":"middle","frame":"bounds","offset":23},
      "encoding":{
       "x":{"field":"e","type":"quantitative","title":"y₀/Lₚₚ","scale":{"domain":[-17.4,19.35],"nice":false,"zero":false},"axis":{"titlePadding":13,"values":[-16,-14,-12,-10,-8,-6,-4,-2,0,2,4,6,8,10,12,14,16,18],"labelExpr":"datum.value % 10 === 0 ? datum.label : ''","gridOpacity":{"condition":{"test":"datum.value % 10 === 0","value":1},"value":0}}},
       "y":{"field":"n","type":"quantitative","title":"x₀/Lₚₚ","scale":{"domain":[-1.34,32.64],"nice":false,"zero":false},"axis":{"values":[-1,0,1,2,3,4,5,6,7,8,9,10,11,12,13,14,15,16,17,18,19,20,21,22,23,24,25,26,27,28,29,30,31,32],"labelExpr":"datum.value % 5 === 0 ? datum.label : ''","gridOpacity":{"condition":{"test":"datum.value % 5 === 0","value":1},"value":0}}}
      },
      "layer":[
       {"data":{"name":"pa"},"mark":{"type":"line","color":"#008000","strokeWidth":1,"interpolate":"basis"},"encoding":{"detail":{"field":"l","type":"nominal"},"order":{"value":null}}},
       {"data":{"name":"traj"},"mark":{"type":"line","strokeWidth":1.3,"interpolate":"cardinal"},"encoding":{"order":{"value":null},"color":{"datum":"True","type":"nominal","scale":{"domain":["True","Predictions"],"range":["#000000","#008000"]},"legend":{"orient":"bottom-right","title":null,"symbolType":"stroke","symbolSize":900,"symbolStrokeWidth":1.2,"labelFontSize":18,"labelFont":"DejaVu Serif","labelColor":"#000","fillColor":"#ffffff","strokeColor":"#000000","padding":5,"offset":13,"rowPadding":2,"labelOffset":22,"cornerRadius":0,"encode":{"legend":{"update":{"strokeWidth":{"value":2}}}}}}}}
      ]},
     {"width":357,"height":338,
      "title":{"text":"(c) Prediction of ship pose using TS1.","orient":"bottom","anchor":"middle","frame":"bounds","offset":23},
      "encoding":{
       "x":{"field":"e","type":"quantitative","title":"y₀/Lₚₚ","scale":{"domain":[-16.4,19.76],"nice":false,"zero":false},"axis":{"titlePadding":13,"values":[-16,-14,-12,-10,-8,-6,-4,-2,0,2,4,6,8,10,12,14,16,18],"labelExpr":"datum.value % 10 === 0 ? datum.label : ''","gridOpacity":{"condition":{"test":"datum.value % 10 === 0","value":1},"value":0}}},
       "y":{"field":"n","type":"quantitative","title":"x₀/Lₚₚ","scale":{"domain":[-1.52,32.7],"nice":false,"zero":false},"axis":{"values":[-1,0,1,2,3,4,5,6,7,8,9,10,11,12,13,14,15,16,17,18,19,20,21,22,23,24,25,26,27,28,29,30,31,32],"labelExpr":"datum.value % 5 === 0 ? datum.label : ''","gridOpacity":{"condition":{"test":"datum.value % 5 === 0","value":1},"value":0}}}
      },
      "layer":[
       {"data":{"name":"bc"},"mark":{"type":"area","orient":"horizontal","color":"#008000","opacity":1},"encoding":{"x2":{"field":"e2"},"detail":{"field":"f","type":"nominal"}}},
       {"data":{"name":"traj"},"mark":{"type":"line","strokeWidth":1.3,"interpolate":"cardinal"},"encoding":{"order":{"value":null},"color":{"datum":"True","type":"nominal","scale":{"domain":["True","Predictions"],"range":["#000000","#008000"]},"legend":{"orient":"bottom-right","title":null,"symbolType":"stroke","symbolSize":900,"symbolStrokeWidth":1.2,"labelFontSize":18,"labelFont":"DejaVu Serif","labelColor":"#000","fillColor":"#ffffff","strokeColor":"#000000","padding":5,"offset":13,"rowPadding":2,"labelOffset":22,"cornerRadius":0,"encode":{"legend":{"update":{"strokeWidth":{"value":2}}}}}}}}
      ]}
    ],"spacing":93,"bounds":"flush","resolve":{"scale":{"color":"independent"},"legend":{"color":"independent"}}}
   ],"spacing":0},
   {"vconcat":[
    {"width":341,"height":94,"data":{"name":"ctl"},"mark":{"type":"line","color":"#000","strokeWidth":1.2},
     "encoding":{
      "x":{"field":"t","type":"quantitative","title":null,"scale":{"domain":[-9.6,208.9],"nice":false,"zero":false},"axis":{"values":[0,10,20,30,40,50,60,70,80,90,100,110,120,130,140,150,160,170,180,190,200],"labels":false,"gridOpacity":{"condition":{"test":"datum.value % 50 === 0","value":1},"value":0}}},
      "y":{"field":"d","type":"quantitative","title":"δP (deg.)","scale":{"domain":[-106,36],"nice":false,"zero":false},"axis":{"values":[-100,-80,-60,-40,-20,0,20],"labelExpr":"datum.value % 100 === 0 ? datum.label : ''","gridColor":{"condition":{"test":"datum.value % 100 === 0","value":"#555555"},"value":"#a9a9e8"}}}}},
    {"width":341,"height":93,"data":{"name":"ctl"},"mark":{"type":"line","color":"#000","strokeWidth":1.2},
     "encoding":{
      "x":{"field":"t","type":"quantitative","title":null,"scale":{"domain":[-9.6,208.9],"nice":false,"zero":false},"axis":{"values":[0,10,20,30,40,50,60,70,80,90,100,110,120,130,140,150,160,170,180,190,200],"labels":false,"gridOpacity":{"condition":{"test":"datum.value % 50 === 0","value":1},"value":0}}},
      "y":{"field":"d","type":"quantitative","title":"δS (deg.)","scale":{"domain":[-35.4,107.7],"nice":false,"zero":false},"axis":{"values":[-20,0,20,40,60,80,100],"labelExpr":"datum.value % 100 === 0 ? datum.label : ''","gridColor":{"condition":{"test":"datum.value % 100 === 0","value":"#555555"},"value":"#a9a9e8"}}}}},
    {"width":341,"height":93,"data":{"name":"nbt"},"mark":{"type":"line","color":"#000","strokeWidth":1.5},
     "encoding":{
      "x":{"field":"t","type":"quantitative","title":"t (s)","scale":{"domain":[-9.6,208.9],"nice":false,"zero":false},"axis":{"titlePadding":11,"values":[0,10,20,30,40,50,60,70,80,90,100,110,120,130,140,150,160,170,180,190,200],"labelExpr":"datum.value % 50 === 0 ? datum.label : ''","gridOpacity":{"condition":{"test":"datum.value % 50 === 0","value":1},"value":0}}},
      "y":{"field":"d","type":"quantitative","title":"nBT (rps)","scale":{"domain":[-29.5,30.8],"nice":false,"zero":false},"axis":{"values":[-25,-20,-15,-10,-5,0,5,10,15,20,25],"labelExpr":"datum.value % 25 === 0 ? datum.label : ''","gridColor":{"condition":{"test":"datum.value % 25 === 0","value":"#555555"},"value":"#a9a9e8"}}}}}
   ],"spacing":30,"bounds":"flush",
   "title":{"text":["(e) Rudder angles and bow thruster revo-","lution."],"orient":"bottom","anchor":"start","frame":"bounds","offset":24,"lineHeight":28,"dx":-14}}
  ],"spacing":32}
 ],"spacing":0},
 {"hconcat":[
  {"width":3,"height":1,"view":{"stroke":null},"data":{"values":[{"a":1}]},"mark":{"type":"point","opacity":0,"size":0},"encoding":{}},
  {"hconcat":[
  {"hconcat":[
   {"vconcat":[
     {"width":338,"height":99,
      "encoding":{
       "x":{"field":"t","type":"quantitative","title":null,"scale":{"domain":[-10.4,209],"nice":false,"zero":false},"axis":{"values":[0,10,20,30,40,50,60,70,80,90,100,110,120,130,140,150,160,170,180,190,200],"labels":false,"gridOpacity":{"condition":{"test":"datum.value % 50 === 0","value":1},"value":0}}},
       "y":{"field":"v","type":"quantitative","title":"u (m/s)","scale":{"domain":[0.432,0.5255],"nice":false,"zero":false},"axis":{"values":[0.44,0.45,0.46,0.47,0.48,0.49,0.5,0.51,0.52],"labelExpr":"abs(datum.value*20-round(datum.value*20))<0.001 ? format(datum.value,'.2f') : ''","gridColor":{"condition":{"test":"abs(datum.value*20-round(datum.value*20))<0.001","value":"#555555"},"value":"#a9a9e8"}}}},
      "layer":[
       {"data":{"name":"bu"},"transform":[{"fold":["a","b","c","d","e","f","g","h","i","j"],"as":["k","v"]}],"mark":{"type":"line","color":"#008000","strokeWidth":1,"interpolate":"monotone"},"encoding":{"detail":[{"field":"s","type":"nominal"},{"field":"k","type":"nominal"}]}},
       {"data":{"name":"tu"},"mark":{"type":"line","color":"#000","strokeWidth":1,"interpolate":"monotone"}}
      ]},
     {"width":338,"height":99,
      "encoding":{
       "x":{"field":"t","type":"quantitative","title":null,"scale":{"domain":[-10.4,209],"nice":false,"zero":false},"axis":{"values":[0,10,20,30,40,50,60,70,80,90,100,110,120,130,140,150,160,170,180,190,200],"labels":false,"gridOpacity":{"condition":{"test":"datum.value % 50 === 0","value":1},"value":0}}},
       "y":{"field":"v","type":"quantitative","title":"vₘ (m/s)","scale":{"domain":[-0.089,0.0875],"nice":false,"zero":false},"axis":{"values":[-0.08,-0.07,-0.06,-0.05,-0.04,-0.03,-0.02,-0.01,0,0.01,0.02,0.03,0.04,0.05,0.06,0.07,0.08],"labelExpr":"abs(datum.value*20-round(datum.value*20))<0.001 ? format(datum.value,'.2f') : ''","gridColor":{"condition":{"test":"abs(datum.value*20-round(datum.value*20))<0.001","value":"#555555"},"value":"#a9a9e8"}}}},
      "layer":[
       {"data":{"name":"bv"},"transform":[{"fold":["a","b","c","d","e","f","g","h","i","j"],"as":["k","v"]}],"mark":{"type":"line","color":"#008000","strokeWidth":1,"interpolate":"monotone"},"encoding":{"detail":[{"field":"s","type":"nominal"},{"field":"k","type":"nominal"}]}},
       {"data":{"name":"tv"},"mark":{"type":"line","color":"#000","strokeWidth":1,"interpolate":"monotone"}}
      ]},
     {"width":338,"height":99,
      "encoding":{
       "x":{"field":"t","type":"quantitative","title":"t (s)","scale":{"domain":[-10.4,209],"nice":false,"zero":false},"axis":{"titlePadding":11,"values":[0,10,20,30,40,50,60,70,80,90,100,110,120,130,140,150,160,170,180,190,200],"labelExpr":"datum.value % 50 === 0 ? datum.label : ''","gridOpacity":{"condition":{"test":"datum.value % 50 === 0","value":1},"value":0}}},
       "y":{"field":"v","type":"quantitative","title":"r (deg/s)","scale":{"domain":[-2.56,3.07],"nice":false,"zero":false},"axis":{"values":[-2.5,-2,-1.5,-1,-0.5,0,0.5,1,1.5,2,2.5,3],"labelExpr":"abs(datum.value/2.5-round(datum.value/2.5))<0.001 ? format(datum.value,'.1f') : ''","gridColor":{"condition":{"test":"abs(datum.value/2.5-round(datum.value/2.5))<0.001","value":"#555555"},"value":"#a9a9e8"}}}},
      "layer":[
       {"data":{"name":"br"},"transform":[{"fold":["a","b","c","d","e","f","g","h","i","j"],"as":["k","v"]}],"mark":{"type":"line","color":"#008000","strokeWidth":1},"encoding":{"detail":[{"field":"s","type":"nominal"},{"field":"k","type":"nominal"}]}},
       {"data":{"name":"tr"},"mark":{"type":"line","color":"#000","strokeWidth":1}}
      ]}
   ],"spacing":21.5,"bounds":"flush",
   "title":{"text":"(b) Prediction of ship velocity using TS∞.","orient":"bottom","anchor":"middle","frame":"bounds","offset":24}},
   {"vconcat":[
     {"width":337,"height":99,
      "encoding":{
       "x":{"field":"t","type":"quantitative","title":null,"scale":{"domain":[-10.4,209],"nice":false,"zero":false},"axis":{"values":[0,10,20,30,40,50,60,70,80,90,100,110,120,130,140,150,160,170,180,190,200],"labels":false,"gridOpacity":{"condition":{"test":"datum.value % 50 === 0","value":1},"value":0}}},
       "y":{"field":"v","type":"quantitative","title":"u (m/s)","scale":{"domain":[0.4326,0.5076],"nice":false,"zero":false},"axis":{"values":[0.44,0.45,0.46,0.47,0.48,0.49,0.5],"labelExpr":"abs(datum.value*20-round(datum.value*20))<0.001 ? format(datum.value,'.2f') : ''","gridColor":{"condition":{"test":"abs(datum.value*20-round(datum.value*20))<0.001","value":"#555555"},"value":"#a9a9e8"}}}},
      "layer":[
       {"data":{"name":"du"},"mark":{"type":"area","color":"#008000","opacity":1,"interpolate":"monotone"},"encoding":{"y2":{"field":"v2"},"detail":{"field":"s","type":"nominal"}}},
       {"data":{"name":"tu"},"mark":{"type":"line","color":"#000","strokeWidth":1,"interpolate":"monotone"}}
      ]},
     {"width":337,"height":99,
      "encoding":{
       "x":{"field":"t","type":"quantitative","title":null,"scale":{"domain":[-10.4,209],"nice":false,"zero":false},"axis":{"values":[0,10,20,30,40,50,60,70,80,90,100,110,120,130,140,150,160,170,180,190,200],"labels":false,"gridOpacity":{"condition":{"test":"datum.value % 50 === 0","value":1},"value":0}}},
       "y":{"field":"v","type":"quantitative","title":"vₘ (m/s)","scale":{"domain":[-0.0897,0.081],"nice":false,"zero":false},"axis":{"values":[-0.08,-0.07,-0.06,-0.05,-0.04,-0.03,-0.02,-0.01,0,0.01,0.02,0.03,0.04,0.05,0.06,0.07,0.08],"labelExpr":"abs(datum.value*20-round(datum.value*20))<0.001 ? format(datum.value,'.2f') : ''","gridColor":{"condition":{"test":"abs(datum.value*20-round(datum.value*20))<0.001","value":"#555555"},"value":"#a9a9e8"}}}},
      "layer":[
       {"data":{"name":"dv"},"mark":{"type":"area","color":"#008000","opacity":1,"interpolate":"monotone"},"encoding":{"y2":{"field":"v2"},"detail":{"field":"s","type":"nominal"}}},
       {"data":{"name":"tv"},"mark":{"type":"line","color":"#000","strokeWidth":1,"interpolate":"monotone"}}
      ]},
     {"width":337,"height":99,
      "encoding":{
       "x":{"field":"t","type":"quantitative","title":"t (s)","scale":{"domain":[-10.4,209],"nice":false,"zero":false},"axis":{"titlePadding":11,"values":[0,10,20,30,40,50,60,70,80,90,100,110,120,130,140,150,160,170,180,190,200],"labelExpr":"datum.value % 50 === 0 ? datum.label : ''","gridOpacity":{"condition":{"test":"datum.value % 50 === 0","value":1},"value":0}}},
       "y":{"field":"v","type":"quantitative","title":"r (deg/s)","scale":{"domain":[-2.56,3.07],"nice":false,"zero":false},"axis":{"values":[-2.5,-2,-1.5,-1,-0.5,0,0.5,1,1.5,2,2.5,3],"labelExpr":"abs(datum.value/2.5-round(datum.value/2.5))<0.001 ? format(datum.value,'.1f') : ''","gridColor":{"condition":{"test":"abs(datum.value/2.5-round(datum.value/2.5))<0.001","value":"#555555"},"value":"#a9a9e8"}}}},
      "layer":[
       {"data":{"name":"dr"},"mark":{"type":"area","color":"#008000","opacity":1},"encoding":{"y2":{"field":"v2"},"detail":{"field":"s","type":"nominal"}}},
       {"data":{"name":"tr"},"mark":{"type":"line","color":"#000","strokeWidth":1}}
      ]}
   ],"spacing":21.5,"bounds":"flush",
   "title":{"text":"(d) Prediction of ship velocity using TS1.","orient":"bottom","anchor":"middle","frame":"bounds","offset":24}}
  ],"spacing":22},
  {"vconcat":[
   {"width":356,"height":159,"data":{"name":"wu"},"mark":{"type":"line","color":"#000","strokeWidth":1},
    "encoding":{
     "x":{"field":"t","type":"quantitative","title":null,"scale":{"domain":[-9.8,208.6],"nice":false,"zero":false},"axis":{"values":[0,10,20,30,40,50,60,70,80,90,100,110,120,130,140,150,160,170,180,190,200],"labels":false,"gridOpacity":{"condition":{"test":"datum.value % 50 === 0","value":1},"value":0}}},
     "y":{"field":"v","type":"quantitative","title":"UT (m/s)","scale":{"domain":[0.764,1.398],"nice":false,"zero":false},"axis":{"values":[0.8,0.85,0.9,0.95,1.0,1.05,1.1,1.15,1.2,1.25,1.3,1.35],"labelExpr":"abs(datum.value*5-round(datum.value*5))<0.001 ? format(datum.value,'.1f') : ''","gridColor":{"condition":{"test":"abs(datum.value*5-round(datum.value*5))<0.001","value":"#555555"},"value":"#a9a9e8"}}}}},
   {"width":356,"height":159,"data":{"name":"wx"},"mark":{"type":"line","color":"#000","strokeWidth":1},
    "encoding":{
     "x":{"field":"t","type":"quantitative","title":"t (s)","scale":{"domain":[-9.8,208.6],"nice":false,"zero":false},"axis":{"titlePadding":11,"values":[0,10,20,30,40,50,60,70,80,90,100,110,120,130,140,150,160,170,180,190,200],"labelExpr":"datum.value % 50 === 0 ? datum.label : ''","gridOpacity":{"condition":{"test":"datum.value % 50 === 0","value":1},"value":0}}},
     "y":{"field":"v","type":"quantitative","title":"ξT (deg.)","scale":{"domain":[0,361],"nice":false,"zero":false},"axis":{"values":[0,20,40,60,80,100,120,140,160,180,200,220,240,260,280,300,320,340],"labelExpr":"datum.value % 100 === 0 ? datum.label : ''","gridColor":{"condition":{"test":"datum.value % 100 === 0","value":"#555555"},"value":"#a9a9e8"}}}}}
  ],"spacing":22,"bounds":"flush",
  "title":{"text":"(f) True wind speed and direction.","orient":"bottom","anchor":"middle","frame":"bounds","offset":24}}
 ],"spacing":28}
 ],"spacing":0}
],
"spacing":6
}
